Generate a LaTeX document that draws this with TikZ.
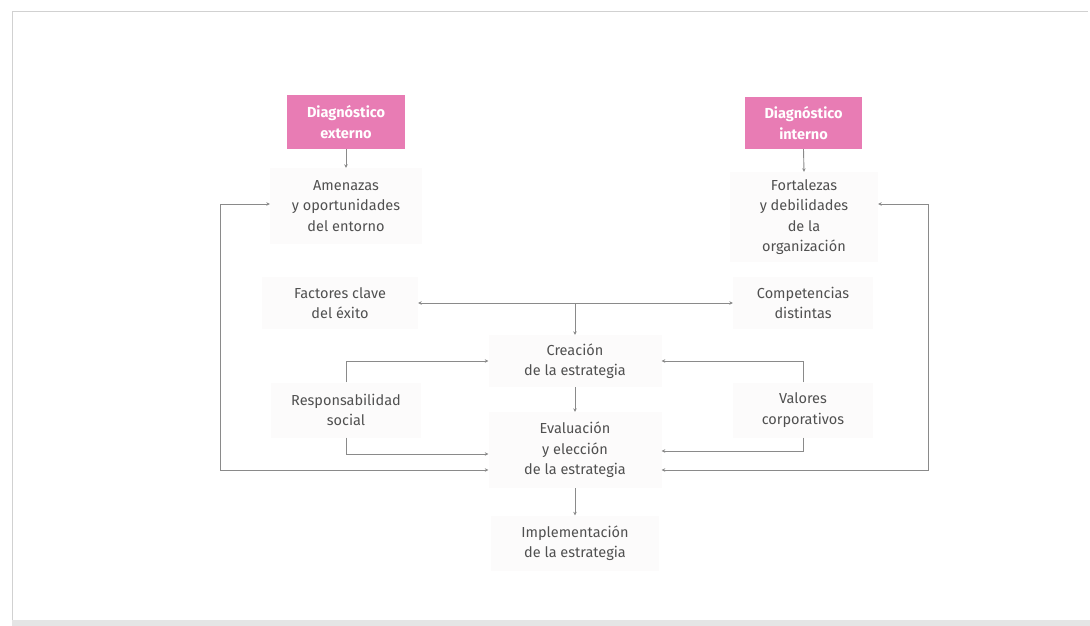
\documentclass[tikz,border=0pt]{standalone}
\usepackage{fontspec}
\setmainfont{Fira Sans}
\usetikzlibrary{arrows.meta,calc}
\definecolor{pinkbox}{HTML}{E87CB4}
\definecolor{txt}{HTML}{505050}
\definecolor{ln}{HTML}{8A8A8A}
\definecolor{faint}{HTML}{FCFBFB}
\tikzset{
  lbl/.style={fill=faint,text=txt,align=center,inner sep=0pt,
    font=\fontsize{14.5}{20.5}\selectfont},
  diag/.style={fill=pinkbox,text=white,align=center,inner sep=0pt,
    font=\fontsize{14.5}{20.5}\selectfont\bfseries},
  conn/.style={draw=ln,line width=0.9pt,-{Stealth[length=3.5pt,width=3.5pt]}},
  conn2/.style={draw=ln,line width=0.9pt,{Stealth[length=3.5pt,width=3.5pt]}-{Stealth[length=3.5pt,width=3.5pt]}}
}
\begin{document}
\begin{tikzpicture}[x=1pt,y=-1pt]
\useasboundingbox (0,0) rectangle (1090,626);
\fill[white] (0,0) rectangle (1090,626);
\draw[black!18,line width=1pt] (12,622) -- (12,12) -- (1088,12);
\fill[black!10] (12,620) rectangle (1090,626);

\node[diag,minimum width=118pt,minimum height=54pt] (dext) at (346,122) {Diagnóstico\\externo};
\node[diag,minimum width=117pt,minimum height=52pt] (dint) at (803.5,123) {Diagnóstico\\interno};

\node[lbl,minimum width=152pt,minimum height=76pt] (amen) at (346,206) {Amenazas\\y oportunidades\\del entorno};
\node[lbl,minimum width=148pt,minimum height=90pt] (fort) at (804,217) {Fortalezas\\y debilidades\\de la\\organización};

\node[lbl,minimum width=156pt,minimum height=52pt] (fact) at (340,303) {Factores clave\\del éxito};
\node[lbl,minimum width=140pt,minimum height=52pt] (comp) at (803,303) {Competencias\\distintas};

\node[lbl,minimum width=173pt,minimum height=52pt] (creac) at (575,361) {Creación\\de la estrategia};
\node[lbl,minimum width=150pt,minimum height=55pt] (resp) at (346,410) {Responsabilidad\\social};
\node[lbl,minimum width=140pt,minimum height=55pt] (val) at (803,410) {Valores\\corporativos};

\node[lbl,minimum width=173pt,minimum height=76pt] (eval) at (575,450) {Evaluación\\y elección\\de la estrategia};
\node[lbl,minimum width=168pt,minimum height=55pt] (impl) at (575,543) {Implementación\\de la estrategia};

\coordinate (amenin) at ([yshift=2pt]amen.west);
\coordinate (fortin) at ([yshift=13pt]fort.east);
\coordinate (evl) at ([yshift=-20pt]eval.west);
\coordinate (evr) at ([yshift=-20pt]eval.east);
\coordinate (lx) at (220,0);
\coordinate (rx) at (928,0);

\draw[conn] (dext.south) -- (amen.north);
\draw[conn] (dint.south) -- (fort.north);

\draw[conn2] (fact.east) -- (comp.west);
\draw[conn] (fact.east -| creac.north) -- (creac.north);

\draw[conn] (resp.north) |- (creac.west);
\draw[conn] (val.north) |- (creac.east);
\draw[conn] (resp.south) |- ([yshift=-4pt]eval.west);
\draw[conn] (val.south) |- ([yshift=-1pt]eval.east);

\draw[conn2] (evl) -- (lx |- evl) -- (lx |- amenin) -- (amenin);
\draw[conn2] (evr) -- (rx |- evr) -- (rx |- fortin) -- (fortin);

\draw[conn] (creac.south) -- (eval.north);
\draw[conn] (eval.south) -- (impl.north);
\end{tikzpicture}
\end{document}
